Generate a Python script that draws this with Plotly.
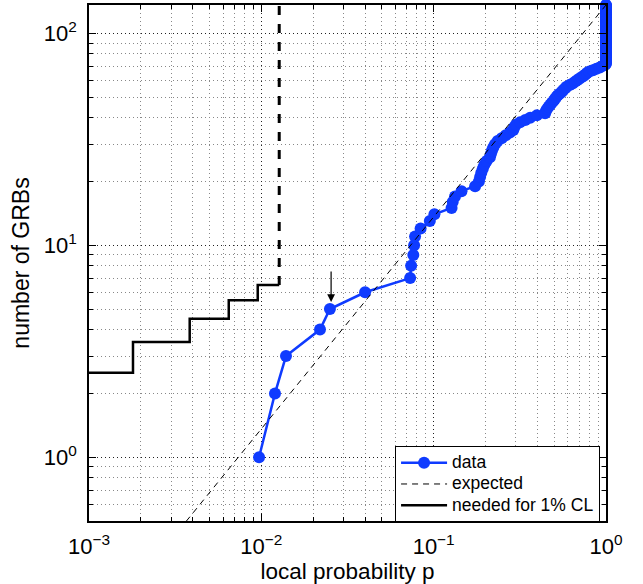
import math
import plotly.graph_objects as go

# ---- data ----
data_p = [0.0097, 0.0120, 0.0139, 0.0219, 0.0250, 0.040, 0.073, 0.074, 0.0762, 0.077,
          0.078, 0.084, 0.095, 0.101, 0.127, 0.129, 0.133, 0.145, 0.174, 0.183,
          0.186, 0.189, 0.193, 0.197, 0.203, 0.212, 0.215, 0.218, 0.222, 0.227,
          0.235, 0.248, 0.262, 0.277, 0.290, 0.293, 0.300, 0.317, 0.340, 0.363,
          0.397, 0.443, 0.448, 0.455, 0.465, 0.475, 0.485, 0.497, 0.505, 0.515,
          0.525, 0.540, 0.555, 0.565, 0.580, 0.590, 0.615, 0.640, 0.660, 0.680,
          0.700, 0.720, 0.745, 0.760, 0.775, 0.800, 0.840, 0.880, 0.920, 0.950,
          0.990,
          1.0, 1.0, 1.0, 1.0, 1.0, 1.0, 1.0, 1.0, 1.0, 1.0,
          1.0, 1.0, 1.0, 1.0, 1.0, 1.0, 1.0, 1.0, 1.0, 1.0,
          1.0, 1.0, 1.0, 1.0, 1.0, 1.0, 1.0, 1.0, 1.0, 1.0,
          1.0, 1.0, 1.0, 1.0, 1.0, 1.0, 1.0, 1.0, 1.0, 1.0,
          1.0, 1.0, 1.0, 1.0, 1.0, 1.0, 1.0, 1.0, 1.0, 1.0,
          1.0, 1.0, 1.0, 1.0, 1.0, 1.0, 1.0, 1.0, 1.0, 1.0,
          1.0, 1.0, 1.0, 1.0, 1.0]
data_n = list(range(1, 137))

expected_p = [0.001, 1.0]
expected_n = [0.136, 136]

needed_p = [0.001, 0.0018, 0.00384, 0.00647, 0.00953, 0.0127]
needed_n = [2.5, 3.5, 4.5, 5.5, 6.5, 6.5]

needed_vert_p = [0.0127, 0.0127]
needed_vert_n = [6.5, 200]

arrow_p = 0.0254
arrow_n = 5.4

legend_names = ["data", "expected", "needed for 1% CL"]

x_tickvals = [1e-3, 1e-2, 1e-1, 1]
x_ticktext = ["10<sup>\u22123</sup>", "10<sup>\u22122</sup>", "10<sup>\u22121</sup>", "10<sup>0</sup>"]
y_tickvals = [1, 10, 100]
y_ticktext = ["10<sup>0</sup>", "10<sup>1</sup>", "10<sup>2</sup>"]

x_minor = [m * 10 ** e for e in (-3, -2, -1) for m in range(2, 10)]
y_minor = [m * 10 ** e for e in (-1, 0, 1, 2) for m in range(2, 10)]
y_minor = [v for v in y_minor if 0.5 <= v <= 136]

BLUE = "#0f3bff"
FONT = "Liberation Sans, Arial, sans-serif"


def leg(name):
    return '<span style="font-size:17.5px">' + name + '</span>'


fig = go.Figure()

fig.add_trace(go.Scatter(
    x=data_p, y=data_n, mode="lines+markers", name=leg(legend_names[0]),
    line=dict(color=BLUE, width=2.5),
    marker=dict(color=BLUE, size=12),
    cliponaxis=False, legendrank=1,
))
fig.add_trace(go.Scatter(
    x=needed_vert_p, y=needed_vert_n, mode="lines", showlegend=False,
    line=dict(color="black", width=3, dash="dash"),
))
fig.add_trace(go.Scatter(
    x=needed_p, y=needed_n, mode="lines", name=leg(legend_names[2]),
    line=dict(color="black", width=2.5, shape="hv"),
    legendrank=3,
))
fig.add_trace(go.Scatter(
    x=expected_p, y=expected_n, mode="lines", name=leg(legend_names[1]),
    line=dict(color="black", width=1, dash="6px,5px"),
    legendrank=2,
))

fig.add_annotation(
    x=math.log10(arrow_p), y=math.log10(arrow_n), xref="x", yref="y",
    ax=0, ay=-32, axref="pixel", ayref="pixel",
    showarrow=True, arrowhead=2, arrowsize=1.3, arrowwidth=1.2, arrowcolor="black", text="",
)

axis_common = dict(
    type="log", automargin=False,
    showline=True, linecolor="black", linewidth=1.5, mirror="allticks",
    ticks="inside", ticklen=7, tickwidth=1, tickcolor="black",
    showgrid=True, gridcolor="#222", griddash="1px,3px", gridwidth=1,
    zeroline=False,
    tickfont=dict(family=FONT, size=22, color="black"),
)

fig.update_xaxes(
    **axis_common,
    range=[-3, 0],
    tickmode="array", tickvals=x_tickvals, ticktext=x_ticktext,
    ticklabelstandoff=5,
    minor=dict(tickmode="array", tickvals=x_minor, ticks="inside", ticklen=4,
               tickcolor="black", showgrid=True, gridcolor="#888", griddash="1px,3px"),
    title=dict(text="local probability p", font=dict(family=FONT, size=22.5, color="black"),
               standoff=6),
)
fig.update_yaxes(
    **axis_common,
    range=[math.log10(0.5), math.log10(136)],
    tickmode="array", tickvals=y_tickvals, ticktext=y_ticktext,
    ticklabelstandoff=6,
    minor=dict(tickmode="array", tickvals=y_minor, ticks="inside", ticklen=4,
               tickcolor="black", showgrid=True, gridcolor="#888", griddash="1px,3px"),
    title=dict(text="number of GRBs", font=dict(family=FONT, size=23, color="black"),
               standoff=8),
)

fig.update_layout(
    width=643, height=584,
    margin=dict(l=89, r=37, t=5, b=63),
    paper_bgcolor="white", plot_bgcolor="white",
    font=dict(family=FONT, color="black"),
    legend=dict(
        x=0.592, y=0.145, xanchor="left", yanchor="top",
        bgcolor="white", bordercolor="black", borderwidth=1,
        font=dict(family=FONT, size=14, color="black"),
        tracegroupgap=0, itemwidth=46,
    ),
    showlegend=True,
)

fig.write_html("out.html", config={"displayModeBar": False},
               post_script="document.body.style.margin='0';document.body.style.overflow='hidden';")
